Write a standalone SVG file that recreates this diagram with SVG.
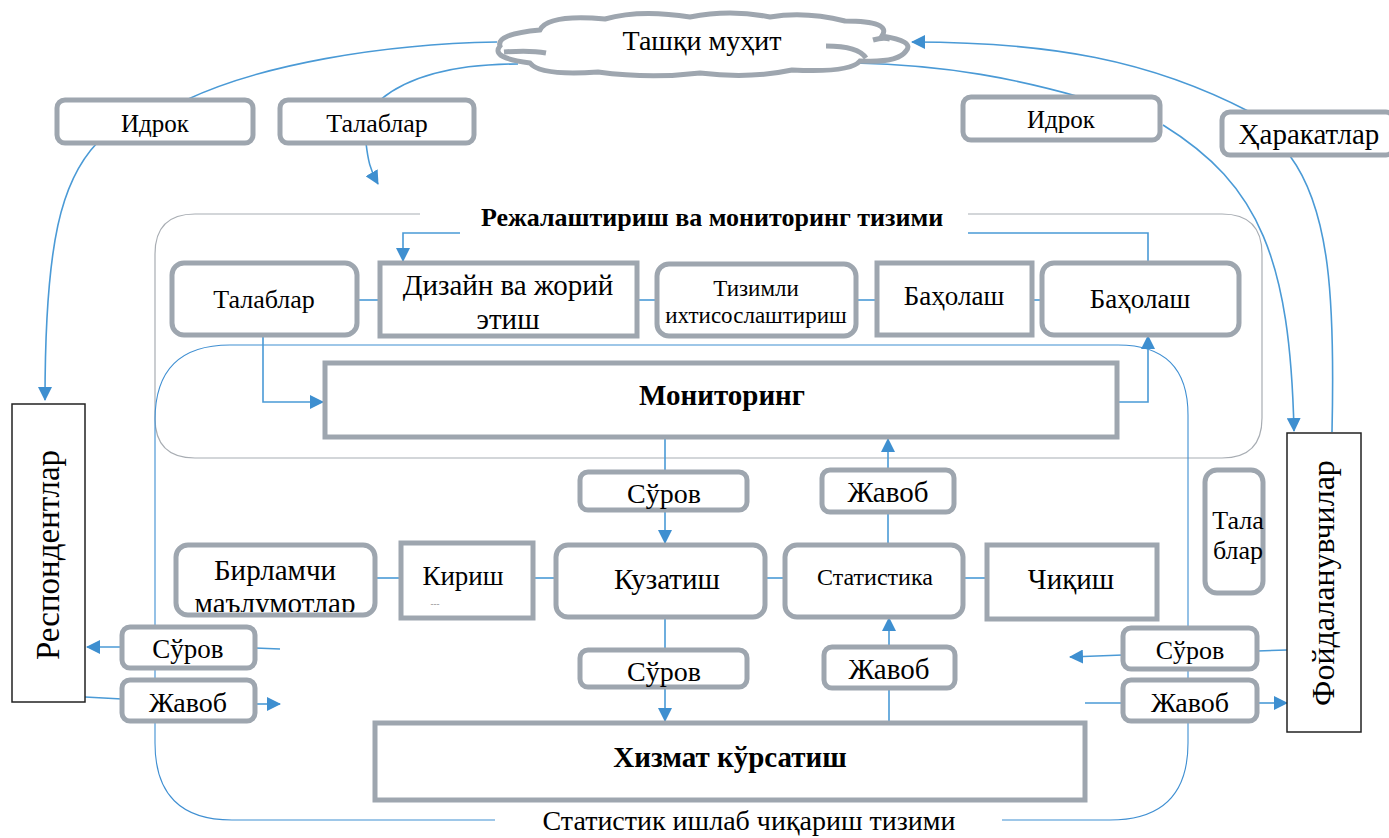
<svg xmlns="http://www.w3.org/2000/svg" width="1389" height="838" viewBox="0 0 1389 838">
<style>
.box{fill:#fff;stroke:#9EA6AF;stroke-width:5}
.bk{fill:#fff;stroke:#222;stroke-width:1.5}
.conn{fill:none;stroke:#4A9AD6;stroke-width:1.6}
.frame{fill:none;stroke:#A8ADB3;stroke-width:1.2}
.frameb{fill:none;stroke:#3F8FD2;stroke-width:1.1}
.t{font-family:"Liberation Serif","Times New Roman",serif;fill:#000;text-anchor:middle}
.b{font-weight:bold}
</style>
<defs>
<marker id="ar" markerUnits="userSpaceOnUse" markerWidth="14" markerHeight="14" refX="13" refY="7" orient="auto">
<path d="M0,0 L14,7 L0,14 z" fill="#3E8FD0"/>
</marker>
<clipPath id="clipB"><rect x="176" y="545" width="199" height="67"/></clipPath>
</defs>

<g id="planning-frame">
<path class="frame" d="M420 214 L195 214 Q155 214 155 254 L155 418 Q155 458 195 458 L1222 458 Q1262 458 1262 418 L1262 254 Q1262 214 1222 214 L968 214"/>
<text class="t b" x="712" y="226" font-size="26">Режалаштириш ва мониторинг тизими</text>
</g>
<g id="production-frame">
<path class="frameb" d="M495 820 L232 820 Q155 820 155 743 L155 420 Q155 345 230 345 L1118 345 Q1188 345 1188 415 L1188 743 Q1188 820 1110 820 L1002 820"/>
<text class="t" x="749" y="830" font-size="28">Статистик ишлаб чиқариш тизими</text>
</g>

<g id="connectors">
<path class="conn" d="M497 42 C380 44 260 65 186 100"/>
<path class="conn" d="M97 143 C62 180 45 240 45 400" marker-end="url(#ar)"/>
<path class="conn" d="M518 64 C460 64 410 75 380 100"/>
<path class="conn" d="M366 143 C368 160 370 170 378 184" marker-end="url(#ar)"/>
<path class="conn" d="M855 63 C950 65 1020 80 1080 97"/>
<path class="conn" d="M1163 125 C1260 185 1290 260 1294 431" marker-end="url(#ar)"/>
<path class="conn" d="M1332 432 C1335 300 1330 210 1290 156"/>
<path class="conn" d="M1250 112 C1150 60 1050 42 912 42" marker-end="url(#ar)"/>
<path class="conn" d="M460 233 L403 233 L403 261" marker-end="url(#ar)"/>
<path class="conn" d="M968 233 L1148 233 L1148 263"/>
<path class="conn" d="M357 300 L380 300"/>
<path class="conn" d="M637 300 L657 300"/>
<path class="conn" d="M856 300 L877 300"/>
<path class="conn" d="M1032 300 L1042 300"/>
<path class="conn" d="M263 337 L263 402 L323 402" marker-end="url(#ar)"/>
<path class="conn" d="M1117 402 L1148 402 L1148 336" marker-end="url(#ar)"/>
<path class="conn" d="M665 437 L665 472"/>
<path class="conn" d="M665 510 L665 543" marker-end="url(#ar)"/>
<path class="conn" d="M888 545 L888 512"/>
<path class="conn" d="M888 470 L888 439" marker-end="url(#ar)"/>
<path class="conn" d="M375 578 L401 578"/>
<path class="conn" d="M533 578 L556 578"/>
<path class="conn" d="M765 578 L785 578"/>
<path class="conn" d="M963 578 L987 578"/>
<path class="conn" d="M665 617 L665 650"/>
<path class="conn" d="M665 687 L665 721" marker-end="url(#ar)"/>
<path class="conn" d="M889 722 L889 688"/>
<path class="conn" d="M889 647 L889 618" marker-end="url(#ar)"/>
<path class="conn" d="M122 647 L87 647" marker-end="url(#ar)"/>
<path class="conn" d="M255 648 L280 649"/>
<path class="conn" d="M85 697 L122 699"/>
<path class="conn" d="M255 704 L280 704" marker-end="url(#ar)"/>
<path class="conn" d="M1123 655 L1070 657" marker-end="url(#ar)"/>
<path class="conn" d="M1257 651 L1287 650"/>
<path class="conn" d="M1085 703 L1123 703"/>
<path class="conn" d="M1257 703 L1287 703" marker-end="url(#ar)"/>
</g>

<g id="cloud">
<path class="box" d="M540 30 Q548 14 605 19 Q640 9 690 17 Q730 9 770 17 Q805 11 845 21 Q892 21 882 36 Q915 41 906 51 Q898 63 860 61 Q850 73 792 70 Q750 79 700 73 Q650 79 598 72 Q540 76 530 63 Q490 58 500 46 Q496 34 540 30 Z"/>
<path d="M504 52 Q530 50 546 53" fill="none" stroke="#9EA6AF" stroke-width="5"/>
<path d="M826 46 Q858 46 866 58" fill="none" stroke="#9EA6AF" stroke-width="5"/>
<path d="M873 40 Q883 37 890 39" fill="none" stroke="#9EA6AF" stroke-width="5"/>
<text class="t" x="702" y="50" font-size="28">Ташқи муҳит</text>
</g>

<g id="idrok-left"><rect class="box" x="57" y="100" width="196" height="43" rx="8"/><text class="t" x="155" y="132" font-size="25">Идрок</text></g>
<g id="talablar-top"><rect class="box" x="280" y="100" width="194" height="43" rx="8"/><text class="t" x="377" y="132" font-size="26">Талаблар</text></g>
<g id="idrok-right"><rect class="box" x="963" y="97" width="197" height="43" rx="8"/><text class="t" x="1061" y="128" font-size="25">Идрок</text></g>
<g id="harakatlar"><rect class="box" x="1222" y="112" width="172" height="43" rx="8"/><text class="t" x="1309" y="144" font-size="29">Ҳаракатлар</text></g>

<g id="talablar"><rect class="box" x="172" y="263" width="185" height="72" rx="12"/><text class="t" x="264" y="308" font-size="26">Талаблар</text></g>
<g id="dizayn"><rect class="box" x="380" y="263" width="257" height="73"/><text class="t" x="508" y="295" font-size="29">Дизайн ва жорий</text><text class="t" x="508" y="329" font-size="29">этиш</text></g>
<g id="tizimli"><rect class="box" x="657" y="264" width="199" height="72" rx="12"/><text class="t" x="756" y="296" font-size="23">Тизимли</text><text class="t" x="756" y="323" font-size="23">ихтисослаштириш</text></g>
<g id="baholash1"><rect class="box" x="877" y="263" width="155" height="72"/><text class="t" x="954" y="305" font-size="27">Баҳолаш</text></g>
<g id="baholash2"><rect class="box" x="1042" y="263" width="197" height="72" rx="12"/><text class="t" x="1140" y="308" font-size="27">Баҳолаш</text></g>

<g id="monitoring"><rect class="box" x="325" y="363" width="792" height="74"/><text class="t b" x="722" y="405" font-size="29">Мониторинг</text></g>

<g id="surov-up"><rect class="box" x="580" y="472" width="167" height="38" rx="8"/><text class="t" x="664" y="503" font-size="28">Сўров</text></g>
<g id="javob-up"><rect class="box" x="822" y="470" width="132" height="42" rx="8"/><text class="t" x="888" y="502" font-size="29">Жавоб</text></g>

<g id="birlamchi"><rect class="box" x="176" y="545" width="199" height="70" rx="12"/><text class="t" x="275" y="580" font-size="29">Бирламчи</text><text class="t" x="275" y="613" font-size="29" clip-path="url(#clipB)">маълумотлар</text></g>
<g id="kirish"><rect class="box" x="401" y="543" width="132" height="75"/><text class="t" x="463" y="585" font-size="27">Кириш</text><text class="t" x="435" y="607" font-size="9" style="fill:#888">---</text></g>
<g id="kuzatish"><rect class="box" x="556" y="545" width="209" height="72" rx="12"/><text class="t" x="667" y="589" font-size="29">Кузатиш</text></g>
<g id="statistika"><rect class="box" x="785" y="545" width="178" height="72" rx="12"/><text class="t" x="875" y="585" font-size="24">Статистика</text></g>
<g id="chiqish"><rect class="box" x="987" y="545" width="170" height="74"/><text class="t" x="1071" y="589" font-size="29">Чиқиш</text></g>

<g id="surov-down"><rect class="box" x="580" y="650" width="167" height="37" rx="8"/><text class="t" x="664" y="681" font-size="28">Сўров</text></g>
<g id="javob-down"><rect class="box" x="824" y="647" width="131" height="41" rx="8"/><text class="t" x="889" y="679" font-size="29">Жавоб</text></g>

<g id="xizmat"><rect class="box" x="375" y="723" width="710" height="77"/><text class="t b" x="730" y="767" font-size="29">Хизмат кўрсатиш</text></g>

<g id="respondentlar"><rect class="bk" x="12" y="404" width="73" height="298"/><text class="t" transform="translate(59 555) rotate(-90)" font-size="33">Респондентлар</text></g>
<g id="surov-left"><rect class="box" x="122" y="627" width="133" height="41" rx="8"/><text class="t" x="188" y="658" font-size="27">Сўров</text></g>
<g id="javob-left"><rect class="box" x="122" y="680" width="133" height="41" rx="8"/><text class="t" x="188" y="712" font-size="28">Жавоб</text></g>

<g id="foydalanuvchilar"><rect class="bk" x="1287" y="433" width="74" height="299"/><text class="t" transform="translate(1334 583) rotate(-90)" font-size="32">Фойдаланувчилар</text></g>
<g id="talablar-right"><rect class="box" x="1205" y="470" width="58" height="123" rx="12"/><text class="t" x="1238" y="529" font-size="26">Тала</text><text class="t" x="1238" y="559" font-size="26">блар</text></g>
<g id="surov-right"><rect class="box" x="1123" y="628" width="134" height="41" rx="8"/><text class="t" x="1190" y="659" font-size="26">Сўров</text></g>
<g id="javob-right"><rect class="box" x="1123" y="680" width="134" height="41" rx="8"/><text class="t" x="1190" y="712" font-size="28">Жавоб</text></g>
</svg>
